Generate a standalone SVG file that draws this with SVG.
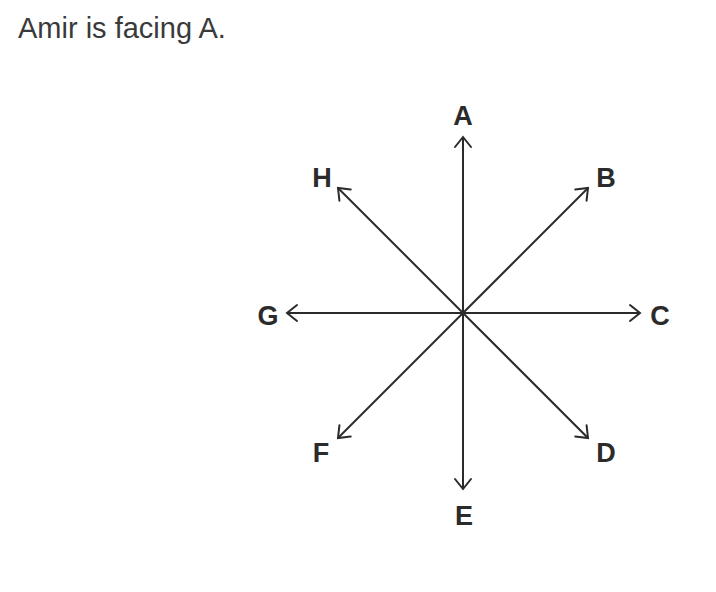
<svg xmlns="http://www.w3.org/2000/svg" width="716" height="592" viewBox="0 0 716 592">
<style>
.title{font-family:"Liberation Sans",Arial,sans-serif;font-size:29px;fill:#3a3a3a}
.lbl{font-family:"Liberation Sans",Arial,sans-serif;font-size:27px;font-weight:bold;fill:#2b2b2b;text-anchor:middle}
.ln{stroke:#2b2b2b;stroke-width:2;fill:none;marker-end:url(#ah)}
</style>
<defs>
<marker id="ah" markerUnits="userSpaceOnUse" markerWidth="24" markerHeight="24" refX="0" refY="0" viewBox="-12 -12 24 24" orient="auto">
<path d="M-10,-8 L0,0 L-10,8" fill="none" stroke="#2b2b2b" stroke-width="2" stroke-linecap="round" stroke-linejoin="miter"/>
</marker>
</defs>
<rect width="716" height="592" fill="#fff"/>
<text class="title" x="18" y="38">Amir is facing A.</text>
<g id="connectors">
<line class="ln" x1="463" y1="313" x2="463" y2="137"/>
<line class="ln" x1="463" y1="313" x2="588" y2="188"/>
<line class="ln" x1="463" y1="313" x2="640" y2="313"/>
<line class="ln" x1="463" y1="313" x2="588" y2="438"/>
<line class="ln" x1="463" y1="313" x2="463" y2="489"/>
<line class="ln" x1="463" y1="313" x2="338" y2="438"/>
<line class="ln" x1="463" y1="313" x2="287" y2="313"/>
<line class="ln" x1="463" y1="313" x2="338" y2="188"/>
<circle cx="463" cy="313" r="2.2" fill="#2b2b2b"/>
</g>
<g id="A"><text class="lbl" x="463" y="125">A</text></g>
<g id="B"><text class="lbl" x="606" y="187">B</text></g>
<g id="C"><text class="lbl" x="660" y="325">C</text></g>
<g id="D"><text class="lbl" x="606" y="462">D</text></g>
<g id="E"><text class="lbl" x="464" y="525">E</text></g>
<g id="F"><text class="lbl" x="321" y="462">F</text></g>
<g id="G"><text class="lbl" x="268" y="325">G</text></g>
<g id="H"><text class="lbl" x="322" y="187">H</text></g>
</svg>
